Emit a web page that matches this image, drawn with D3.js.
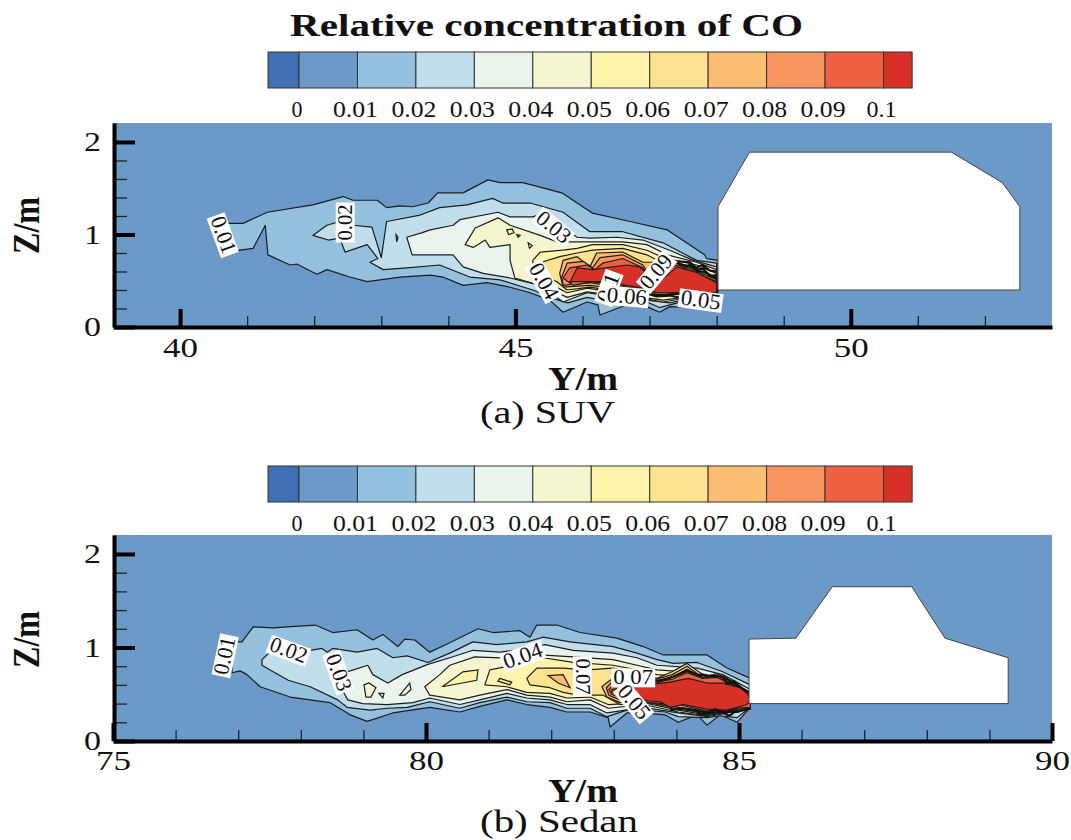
<!DOCTYPE html>
<html>
<head>
<meta charset="utf-8">
<title>Relative concentration of CO</title>
<script src="https://cdn.jsdelivr.net/npm/d3@7"></script>
<style>
    html, body { margin: 0; padding: 0; background: white; }
    text { font-family: "Liberation Serif", serif; fill: #111; }
</style>
</head>
<body>
<div class="canva"></div>
<script>
const legendLevels = [0, 0.01, 0.02, 0.03, 0.04, 0.05, 0.06, 0.07, 0.08, 0.09, 0.1];
const legendEdges = [-0.0053, 0, 0.01, 0.02, 0.03, 0.04, 0.05, 0.06, 0.07, 0.08, 0.09, 0.1, 0.1049];
const legendColors = ["#3f6fb5", "#6b9ac9", "#94c1de", "#c0dfeb", "#e8f4ec", "#f5f6d0", "#fff4ab", "#fde290", "#fdbe73", "#f99560", "#ee6140", "#d73027"];

// contours of the SUV panel, [Y, Z] in metres
const suv01 = [[40.63,1.13],[40.72,1.12],[40.94,1.12],[41.30,1.24],[41.98,1.32],[42.43,1.41],[42.58,1.37],[42.94,1.37],[43.08,1.29],[43.28,1.31],[43.47,1.30],[43.70,1.34],[43.84,1.45],[44.22,1.45],[44.59,1.59],[44.77,1.56],[45.11,1.56],[45.69,1.45],[46.15,1.23],[46.71,1.14],[47.26,1.05],[47.82,0.78],[47.85,0.74],[48.02,0.72],[48.02,0.37],[47.65,0.21],[47.30,0.22],[47.15,0.16],[46.96,0.22],[46.66,0.24],[46.26,0.13],[46.23,0.24],[46.07,0.27],[45.71,0.16],[45.51,0.29],[45.22,0.37],[44.92,0.43],[44.58,0.48],[44.22,0.45],[43.92,0.54],[43.73,0.56],[43.28,0.54],[42.79,0.49],[42.53,0.54],[42.19,0.62],[42.04,0.57],[41.74,0.68],[41.64,0.67],[41.31,0.78],[41.27,1.10],[41.09,0.85],[40.79,0.82],[40.63,0.81]];
const suv02 = [[41.98,0.99],[42.19,1.10],[42.38,1.14],[42.58,1.10],[42.86,1.08],[43.0,0.75],[43.08,1.14],[43.58,1.21],[43.87,1.29],[44.28,1.32],[44.66,1.39],[44.81,1.34],[45.22,1.34],[45.71,1.24],[46.11,1.03],[46.60,1.03],[47.20,0.91],[47.70,0.72],[48.0,0.69],[48.0,0.37],[47.30,0.24],[47.15,0.21],[46.96,0.27],[46.66,0.27],[46.41,0.27],[46.07,0.32],[45.78,0.26],[45.56,0.31],[45.26,0.40],[44.77,0.51],[44.32,0.54],[43.87,0.67],[43.38,0.64],[43.03,0.62],[42.83,0.70],[42.95,0.74],[42.79,0.89],[42.46,0.81],[42.38,0.96],[42.21,0.94]];
const suv03 = [[43.38,0.97],[43.61,1.02],[43.73,1.05],[44.07,1.10],[44.17,1.16],[44.74,1.24],[44.92,1.19],[45.26,1.19],[45.41,1.23],[45.92,0.97],[46.11,0.96],[46.51,0.97],[46.90,0.94],[47.30,0.83],[47.65,0.72],[48.0,0.65],[48.0,0.37],[47.30,0.26],[46.96,0.29],[46.66,0.31],[46.07,0.37],[45.71,0.27],[45.56,0.35],[45.37,0.45],[44.92,0.53],[44.52,0.58],[44.22,0.65],[44.07,0.78],[43.73,0.78],[43.46,0.78]];
const suv04 = [[44.25,0.89],[44.40,1.07],[44.74,1.18],[44.92,1.10],[45.37,0.99],[45.62,0.92],[46.21,0.92],[46.60,0.92],[46.96,0.89],[47.26,0.78],[47.70,0.70],[48.0,0.62],[48.0,0.37],[47.20,0.27],[46.90,0.31],[46.66,0.32],[46.07,0.38],[45.77,0.32],[45.47,0.43],[44.99,0.53],[44.92,0.72],[44.92,0.89],[44.62,0.86],[44.55,0.94],[44.37,0.86]];
const suv05 = [[45.26,0.72],[45.37,0.81],[45.71,0.83],[45.92,0.85],[46.15,0.89],[46.60,0.89],[46.96,0.83],[47.20,0.75],[47.70,0.67],[48.0,0.58],[48.0,0.37],[47.20,0.29],[46.90,0.32],[46.66,0.35],[46.07,0.42],[45.77,0.37],[45.56,0.45],[45.26,0.54]];
const suv06 = [[45.39,0.70],[45.66,0.76],[45.92,0.80],[46.15,0.83],[46.60,0.85],[46.96,0.78],[47.20,0.69],[48.0,0.54],[48.0,0.37],[47.0,0.35],[46.66,0.37],[46.11,0.43],[45.77,0.40],[45.62,0.49],[45.39,0.54]];
const suv07 = [[45.66,0.58],[45.71,0.72],[45.92,0.76],[46.11,0.65],[46.21,0.80],[46.60,0.81],[46.90,0.70],[47.42,0.70],[48.0,0.53],[48.0,0.37],[47.0,0.37],[46.11,0.45],[45.71,0.43]];
const suv08 = [[45.69,0.54],[45.77,0.69],[46.01,0.71],[46.15,0.64],[46.26,0.75],[46.60,0.78],[46.90,0.67],[46.97,0.59],[47.42,0.69],[48.0,0.51],[48.0,0.37],[46.96,0.38],[46.11,0.48],[45.71,0.45]];
const suv09 = [[45.71,0.53],[45.81,0.64],[46.07,0.67],[46.18,0.62],[46.30,0.69],[46.60,0.74],[46.90,0.64],[46.97,0.56],[47.42,0.67],[48.0,0.49],[48.0,0.37],[46.96,0.40],[46.15,0.49],[45.86,0.45]];
const suv10 = [[45.81,0.48],[45.92,0.64],[46.15,0.62],[46.66,0.67],[46.85,0.65],[46.96,0.58],[47.08,0.45],[47.41,0.65],[47.70,0.59],[48.0,0.48],[48.0,0.37],[47.11,0.37],[46.90,0.42],[46.30,0.49],[45.86,0.49]];
const suvIslands = [
    { level: 3, points: [[43.22,1.00],[43.25,0.97],[43.23,0.92]] },
    { level: 5, points: [[44.87,1.05],[44.95,1.06],[44.98,1.02],[44.90,1.00]] },
    { level: 5, points: [[45.02,1.00],[45.07,0.99],[45.04,0.97]] },
    { level: 5, points: [[45.19,0.91],[45.25,0.88],[45.21,0.85]] }
];
const suvTangle = [
    [[47.42,0.71],[47.60,0.70],[47.70,0.64],[47.79,0.67],[47.90,0.61],[48.0,0.60]],
    [[47.42,0.69],[47.55,0.65],[47.62,0.68],[47.72,0.62],[47.80,0.63],[47.90,0.55],[48.0,0.56]],
    [[47.50,0.67],[47.62,0.66],[47.72,0.60],[47.82,0.60],[48.0,0.52]],
    [[46.96,0.36],[47.20,0.34],[47.40,0.36],[47.70,0.35],[48.0,0.36]],
    [[46.90,0.38],[47.10,0.33],[47.30,0.34],[47.50,0.31],[47.70,0.33],[48.0,0.35]]
];
const suvCar = [[48.02,0.40],[48.02,1.30],[48.49,1.89],[51.50,1.89],[52.26,1.56],[52.52,1.30],[52.52,0.40]];
const suvLabels = [
    { text: "0.01", y: 40.63, z: 0.99, angle: 70, width: 38 },
    { text: "0.02", y: 42.47, z: 1.13, angle: -90, width: 36 },
    { text: "0.03", y: 45.56, z: 1.07, angle: 40, width: 38 },
    { text: "0.04", y: 45.41, z: 0.49, angle: 60, width: 38 },
    { text: "0.1", y: 46.40, z: 0.42, angle: -70, width: 30 },
    { text: "0.06", y: 46.66, z: 0.32, angle: 5, width: 40 },
    { text: "0.09", y: 47.11, z: 0.59, angle: -50, width: 38 },
    { text: "0.05", y: 47.76, z: 0.28, angle: 8, width: 40 }
];

// contours of the Sedan panel, [Y, Z] in metres
const sedan01 = [[76.90,1.06],[77.06,1.06],[77.24,1.22],[77.56,1.21],[77.78,1.22],[78.23,1.24],[78.51,1.16],[78.90,1.19],[79.15,1.08],[79.31,1.14],[79.55,1.01],[79.66,1.09],[79.82,1.08],[80.06,0.95],[80.38,1.05],[80.83,1.20],[81.07,1.16],[81.50,1.18],[81.66,1.11],[81.77,1.24],[82.09,1.24],[82.46,1.16],[83.05,1.10],[83.47,1.01],[83.79,0.92],[84.49,0.92],[84.81,0.78],[85.18,0.67],[85.18,0.36],[84.97,0.20],[84.70,0.28],[84.49,0.17],[84.33,0.28],[84.03,0.20],[83.82,0.28],[83.47,0.30],[83.21,0.30],[82.94,0.15],[82.91,0.25],[82.62,0.31],[82.25,0.31],[81.98,0.36],[81.61,0.39],[81.29,0.44],[80.86,0.37],[80.54,0.31],[80.06,0.36],[79.47,0.30],[79.06,0.21],[78.79,0.28],[78.47,0.41],[77.83,0.47],[77.35,0.58],[77.14,0.71],[77.03,0.75],[76.90,0.73]];
const sedan02 = [[77.38,0.87],[77.54,0.97],[78.15,0.97],[78.34,0.99],[78.42,0.95],[78.51,0.99],[78.90,0.95],[79.22,0.99],[79.47,0.89],[79.70,0.91],[80.03,0.84],[80.38,0.94],[80.75,1.06],[81.13,1.03],[81.61,1.06],[81.87,1.11],[82.30,1.06],[82.99,1.01],[83.37,0.94],[83.69,0.87],[83.95,0.83],[84.33,0.84],[84.74,0.74],[85.18,0.60],[85.18,0.36],[84.97,0.25],[84.70,0.27],[84.49,0.25],[84.03,0.26],[83.82,0.31],[83.47,0.33],[83.21,0.33],[82.89,0.26],[82.62,0.35],[82.25,0.35],[81.98,0.41],[81.61,0.42],[81.29,0.47],[80.86,0.41],[80.54,0.35],[80.06,0.42],[79.70,0.36],[79.38,0.35],[79.11,0.33],[78.74,0.36],[78.59,0.44],[78.15,0.58],[77.80,0.65],[77.51,0.76],[77.38,0.81]];
const sedan03 = [[78.66,0.55],[78.71,0.74],[78.79,0.75],[79.07,0.81],[79.15,0.71],[79.39,0.62],[79.62,0.71],[80.03,0.82],[80.38,0.89],[80.75,0.97],[81.18,0.95],[81.66,0.99],[81.90,1.03],[82.35,0.97],[82.99,0.94],[83.37,0.89],[83.69,0.81],[84.33,0.78],[84.74,0.71],[85.18,0.55],[85.18,0.36],[84.74,0.29],[84.49,0.26],[84.03,0.30],[83.47,0.36],[82.89,0.30],[82.62,0.39],[82.25,0.39],[81.98,0.44],[81.61,0.46],[81.29,0.51],[80.86,0.44],[80.54,0.39],[80.06,0.46],[79.79,0.41],[79.38,0.39],[78.99,0.40],[78.75,0.44]];
const sedan04 = [[79.98,0.58],[80.22,0.71],[80.38,0.81],[80.78,0.90],[81.18,0.89],[81.82,0.92],[82.35,0.90],[82.99,0.87],[83.37,0.81],[83.69,0.76],[84.33,0.73],[84.74,0.67],[85.18,0.51],[85.18,0.36],[84.74,0.30],[84.49,0.27],[84.03,0.31],[83.47,0.39],[82.91,0.35],[82.62,0.44],[82.25,0.42],[81.98,0.47],[81.61,0.49],[81.29,0.55],[80.86,0.49],[80.54,0.44],[80.06,0.49]];
const sedan05 = [[80.94,0.60],[81.02,0.76],[81.39,0.81],[81.87,0.89],[82.35,0.84],[82.99,0.81],[83.37,0.76],[83.69,0.71],[84.33,0.68],[84.74,0.63],[85.18,0.47],[85.18,0.36],[84.74,0.31],[84.49,0.28],[84.03,0.33],[83.47,0.41],[82.91,0.39],[82.62,0.47],[82.25,0.46],[81.98,0.51],[81.61,0.52],[81.29,0.58]];
const sedan06 = [[81.61,0.67],[81.77,0.78],[82.19,0.78],[82.57,0.76],[82.99,0.78],[83.37,0.73],[83.69,0.67],[83.93,0.74],[84.17,0.83],[84.42,0.71],[84.74,0.64],[85.18,0.46],[85.18,0.34],[84.74,0.32],[84.49,0.29],[84.03,0.35],[83.47,0.42],[83.10,0.39],[82.83,0.49],[82.43,0.49],[82.19,0.52],[81.98,0.57],[81.66,0.60]];
const sedan07 = [[82.81,0.58],[82.94,0.65],[83.26,0.66],[83.63,0.65],[83.93,0.71],[84.17,0.80],[84.42,0.68],[84.65,0.72],[84.90,0.63],[85.18,0.46],[85.18,0.34],[84.74,0.32],[84.49,0.30],[84.03,0.34],[83.47,0.44],[83.10,0.41],[82.89,0.47]];
const sedan08 = [[82.88,0.57],[82.97,0.63],[83.26,0.64],[83.63,0.64],[83.93,0.68],[84.17,0.77],[84.42,0.67],[84.65,0.70],[84.90,0.61],[85.18,0.48],[85.18,0.35],[84.74,0.33],[84.49,0.31],[84.03,0.36],[83.47,0.42],[83.10,0.44],[82.92,0.49]];
const sedan09 = [[82.92,0.55],[83.0,0.61],[83.26,0.62],[83.63,0.63],[83.93,0.66],[84.17,0.73],[84.42,0.67],[84.65,0.68],[84.90,0.60],[85.18,0.49],[85.18,0.36],[84.74,0.34],[84.49,0.32],[84.03,0.39],[83.58,0.41],[83.26,0.43],[82.96,0.50]];
const sedan10 = [[82.97,0.55],[83.21,0.58],[83.90,0.63],[84.19,0.67],[84.49,0.62],[84.74,0.62],[85.02,0.57],[85.13,0.51],[85.19,0.45],[85.13,0.39],[84.81,0.33],[84.49,0.34],[84.11,0.39],[83.90,0.36],[83.74,0.42],[83.37,0.44],[82.97,0.52]];
const sedanIslands = [
    { level: 4, points: [[79.01,0.60],[79.09,0.62],[79.20,0.57],[79.12,0.47],[79.04,0.47]] },
    { level: 4, points: [[79.25,0.51],[79.33,0.51],[79.31,0.46]] },
    { level: 4, points: [[79.58,0.49],[79.74,0.62],[79.76,0.55],[79.66,0.49]] },
    { level: 5, points: [[80.26,0.58],[80.59,0.74],[80.83,0.76],[80.81,0.65]] },
    { level: 6, points: [[81.18,0.67],[81.37,0.63],[81.34,0.60],[81.15,0.64]] },
    { level: 7, points: [[81.95,0.70],[82.19,0.71],[82.30,0.57],[82.11,0.62]] }
];
const sedanTangle = [
    [[83.69,0.63],[83.95,0.69],[84.17,0.75],[84.33,0.71],[84.49,0.70],[84.74,0.69],[84.92,0.62],[85.18,0.51]],
    [[84.74,0.68],[84.81,0.61],[84.92,0.64],[85.05,0.56],[85.18,0.52]],
    [[83.90,0.33],[84.10,0.35],[84.30,0.33],[84.49,0.30],[84.74,0.31],[84.97,0.31],[85.18,0.35]],
    [[84.30,0.33],[84.40,0.28],[84.62,0.34],[84.85,0.27],[84.97,0.33]]
];
const sedanCar = [[85.16,0.40],[85.16,1.09],[85.91,1.10],[86.49,1.65],[87.76,1.65],[88.29,1.10],[89.30,0.89],[89.30,0.40]];
const sedanLabels = [
    { text: "0.01", y: 76.80, z: 0.91, angle: -78, width: 38 },
    { text: "0.02", y: 77.80, z: 0.96, angle: 20, width: 38 },
    { text: "0.03", y: 78.59, z: 0.73, angle: 70, width: 38 },
    { text: "0.04", y: 81.55, z: 0.90, angle: -20, width: 40 },
    { text: "0.07", y: 82.49, z: 0.69, angle: 90, width: 36 },
    { text: "0.07", y: 83.31, z: 0.67, angle: 0, width: 40 },
    { text: "0.05", y: 83.31, z: 0.41, angle: 50, width: 38 }
];

const suvBands = [suv01, suv02, suv03, suv04, suv05, suv06, suv07, suv08, suv09, suv10];
const sedanBands = [sedan01, sedan02, sedan03, sedan04, sedan05, sedan06, sedan07, sedan08, sedan09, sedan10];

const suvXTicks = [40, 45, 50];
const suvXMinor = [41, 42, 43, 44, 46, 47, 48, 49, 51, 52];
const sedanXTicks = [75, 80, 85, 90];
const sedanXMinor = [76, 77, 78, 79, 81, 82, 83, 84, 86, 87, 88, 89];
const zTicks = [0, 1, 2];
const zMinor = [0.2, 0.4, 0.6, 0.8, 1.2, 1.4, 1.6, 1.8];

const svg = d3.select(".canva").append("svg")
    .attr("width", 1071)
    .attr("height", 840)
    .style("display", "block");

// stretched text, the source figure is wider than it is tall
function addText(parent, str, x, y, size, width, bold) {
    return parent.append("text")
        .attr("x", x)
        .attr("y", y)
        .attr("font-size", size)
        .attr("font-weight", bold ? "bold" : "normal")
        .attr("textLength", width)
        .attr("lengthAdjust", "spacingAndGlyphs")
        .text(str);
}

addText(svg, "Relative concentration of CO", 290, 36, 32, 513, true);

function drawLegend(top, baseline) {
    const scale = d3.scaleLinear().domain([0, 0.1]).range([299, 883.5]);
    const g = svg.append("g");

    g.selectAll("rect")
        .data(legendColors)
        .enter()
        .append("rect")
        .attr("x", (d, i) => scale(legendEdges[i]))
        .attr("y", top)
        .attr("width", (d, i) => scale(legendEdges[i + 1]) - scale(legendEdges[i]))
        .attr("height", 36)
        .attr("fill", d => d)
        .attr("stroke", "#333")
        .attr("stroke-width", 1);

    legendLevels.forEach(v => {
        const str = String(v);
        const w = str.length === 1 ? 11 : str.length === 3 ? 30 : 45;
        addText(g, str, scale(v) - 2 - w / 2, baseline, 23, w);
    });
}
drawLegend(52, 117);
drawLegend(466, 531);

function drawPanel(p) {
    const x = d3.scaleLinear().domain(p.xDomain).range([113, 1052]);
    const y = d3.scaleLinear().domain([0, p.zTop]).range([p.bottom, p.top]);
    const path = d3.line().x(d => x(d[0])).y(d => y(d[1])).curve(d3.curveLinearClosed);
    const open = d3.line().x(d => x(d[0])).y(d => y(d[1]));
    const g = svg.append("g");

    g.append("rect")
        .attr("x", x.range()[0])
        .attr("y", p.top)
        .attr("width", x.range()[1] - x.range()[0])
        .attr("height", p.bottom - p.top)
        .attr("fill", legendColors[1]);

    g.selectAll(".band")
        .data(p.bands)
        .enter()
        .append("path")
        .attr("class", "band")
        .attr("d", path)
        .attr("fill", (d, i) => legendColors[i + 2])
        .attr("stroke", "#1c1c1c")
        .attr("stroke-width", 1.2)
        .attr("stroke-linejoin", "round");

    g.selectAll(".island")
        .data(p.islands)
        .enter()
        .append("path")
        .attr("class", "island")
        .attr("d", d => path(d.points))
        .attr("fill", d => legendColors[d.level + 1])
        .attr("stroke", "#1c1c1c")
        .attr("stroke-width", 1.2);

    g.selectAll(".tangle")
        .data(p.tangle)
        .enter()
        .append("path")
        .attr("class", "tangle")
        .attr("d", open)
        .attr("fill", "none")
        .attr("stroke", "#111")
        .attr("stroke-width", 2.2);

    g.append("path")
        .attr("d", path(p.car))
        .attr("fill", "white")
        .attr("stroke", "#444")
        .attr("stroke-width", 1);

    p.labels.forEach(l => {
        const lab = g.append("g")
            .attr("transform", `translate(${x(l.y)},${y(l.z)}) rotate(${l.angle})`);
        lab.append("rect")
            .attr("x", -l.width / 2 - 2)
            .attr("y", -10)
            .attr("width", l.width + 4)
            .attr("height", 19)
            .attr("fill", "white");
        addText(lab, l.text, -l.width / 2, 6, 22, l.width);
    });

    // thin minor ticks first, thick majors and frame on top
    const minorBottom = g.append("g")
        .attr("transform", `translate(0,${p.bottom})`)
        .call(d3.axisBottom(x).tickValues(p.xMinor).tickSize(-11).tickFormat(""));
    const minorLeft = g.append("g")
        .attr("transform", "translate(114,0)")
        .call(d3.axisLeft(y).tickValues(zMinor).tickSize(-13).tickFormat(""));
    minorBottom.selectAll("line").attr("stroke", "#222").attr("stroke-width", 1.3);
    minorLeft.selectAll("line").attr("stroke", "#222").attr("stroke-width", 1.3);
    minorBottom.select(".domain").remove();
    minorLeft.select(".domain").remove();

    const bottomAxis = g.append("g")
        .attr("transform", `translate(0,${p.bottom})`)
        .call(d3.axisBottom(x).tickValues(p.xTicks).tickSize(-18).tickSizeOuter(0).tickFormat(d3.format("d")));
    const leftAxis = g.append("g")
        .attr("transform", "translate(114,0)")
        .call(d3.axisLeft(y).tickValues(zTicks).tickSize(-21).tickSizeOuter(0).tickFormat(d3.format("d")));

    [bottomAxis, leftAxis].forEach(a => {
        a.attr("font-family", null).attr("font-size", null);
        a.selectAll("line").attr("stroke", "black").attr("stroke-width", 4);
        a.select(".domain").attr("stroke", "black").attr("stroke-width", 4);
    });

    bottomAxis.selectAll("text")
        .attr("y", p.xLabelOffset)
        .attr("dy", null)
        .attr("font-size", 27)
        .attr("textLength", 35)
        .attr("lengthAdjust", "spacingAndGlyphs");
    leftAxis.selectAll("text")
        .attr("x", -13)
        .attr("dy", "0.32em")
        .attr("font-size", 27)
        .attr("textLength", 17)
        .attr("lengthAdjust", "spacingAndGlyphs");

    addText(g, "Y/m", 548, p.titleBase, 33, 70, true);
    addText(g, p.caption, 480, p.captionBase, 32, p.captionWidth);

    g.append("text")
        .attr("transform", `translate(39,${p.zCenter + 28}) rotate(-90)`)
        .attr("font-size", 38)
        .attr("font-weight", "bold")
        .attr("textLength", 57)
        .attr("lengthAdjust", "spacingAndGlyphs")
        .text("Z/m");
}

drawPanel({
    xDomain: [39, 53], zTop: 2.205, top: 123, bottom: 327,
    bands: suvBands, islands: suvIslands, tangle: suvTangle, car: suvCar, labels: suvLabels,
    xTicks: suvXTicks, xMinor: suvXMinor, xLabelOffset: 30,
    titleBase: 390, caption: "(a) SUV", captionBase: 423, captionWidth: 135, zCenter: 226
});
drawPanel({
    xDomain: [75, 90], zTop: 2.203, top: 535, bottom: 741,
    bands: sedanBands, islands: sedanIslands, tangle: sedanTangle, car: sedanCar, labels: sedanLabels,
    xTicks: sedanXTicks, xMinor: sedanXMinor, xLabelOffset: 29,
    titleBase: 802, caption: "(b) Sedan", captionBase: 832, captionWidth: 158, zCenter: 640
});
</script>
</body>
</html>
